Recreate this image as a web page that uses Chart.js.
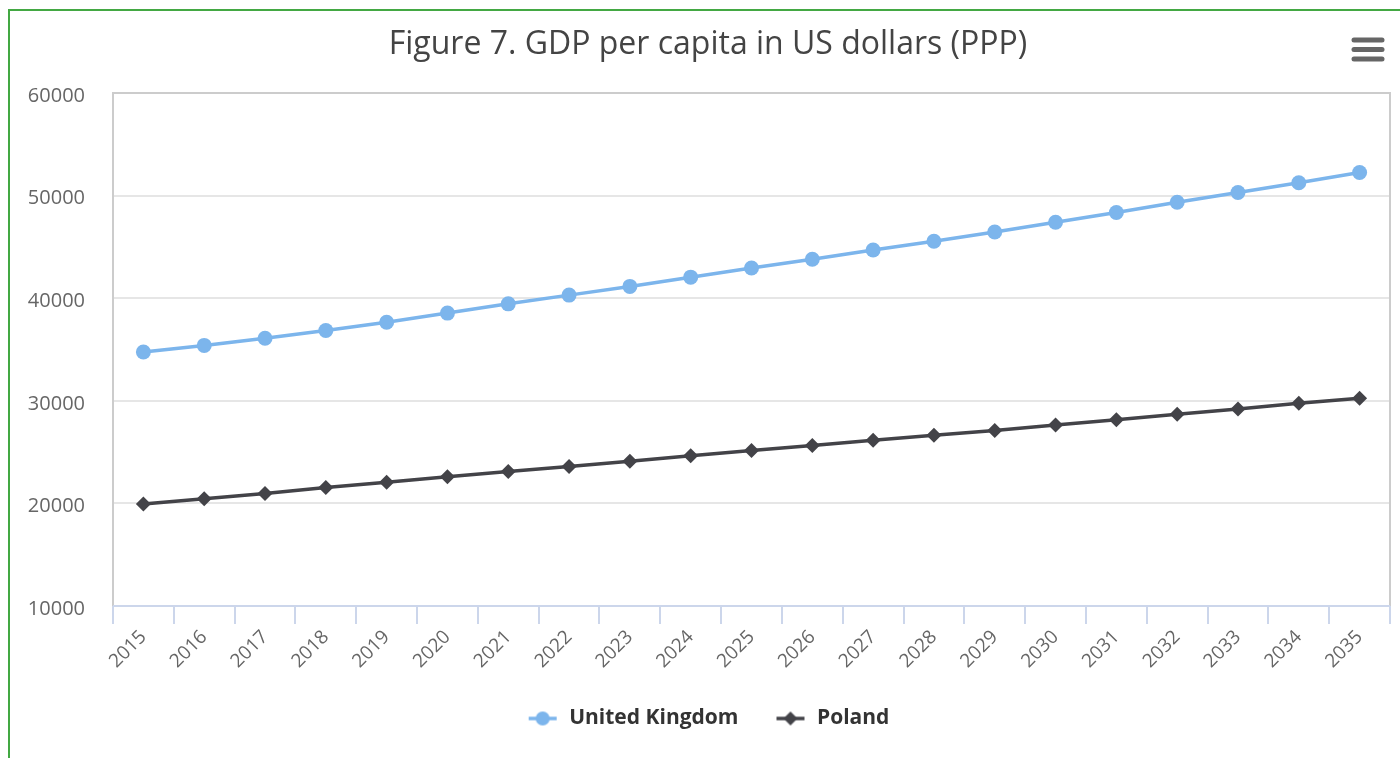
<!DOCTYPE html>
<html>
<head>
<meta charset="utf-8">
<title>GDP per capita</title>
<script src="https://cdn.jsdelivr.net/npm/chart.js@4.4.1/dist/chart.umd.min.js"></script>
<style>
    body { margin: 0; background: #fff; overflow: hidden; }
    #frame {
        position: absolute; left: 8px; top: 9px; width: 1500px; height: 900px;
        border-left: 2px solid #43a843; border-top: 2px solid #43a843;
    }
    #gdpChart { position: absolute; left: 0; top: 0; }
</style>
</head>
<body>
<div id="frame"></div>
<canvas id="gdpChart" width="1400" height="758"></canvas>
<script>
// dane
const years = ["2015", "2016", "2017", "2018", "2019", "2020", "2021", "2022", "2023", "2024", "2025",
    "2026", "2027", "2028", "2029", "2030", "2031", "2032", "2033", "2034", "2035"];
const ukValues = [34750, 35400, 36100, 36850, 37650, 38550, 39450, 40300, 41150, 42050, 42950,
    43800, 44700, 45550, 46450, 47400, 48350, 49350, 50300, 51250, 52250];
const plValues = [19950, 20450, 20970, 21550, 22050, 22600, 23100, 23600, 24100, 24650, 25150,
    25650, 26150, 26650, 27100, 27650, 28150, 28700, 29200, 29750, 30250];
const yTicks = [10000, 20000, 30000, 40000, 50000, 60000];

const UK_COLOR = "#7cb5ec";
const PL_COLOR = "#434348";

// ikonka legendy: linia + znacznik
function makeIcon(color, shape) {
    const c = document.createElement("canvas");
    c.width = 58;
    c.height = 18;
    const ctx = c.getContext("2d");
    ctx.strokeStyle = color;
    ctx.fillStyle = color;
    ctx.lineWidth = 3.5;
    ctx.beginPath();
    ctx.moveTo(28, 9);
    ctx.lineTo(56, 9);
    ctx.stroke();
    ctx.beginPath();
    if (shape === "circle") {
        ctx.arc(42, 9, 7, 0, Math.PI * 2);
    } else {
        ctx.moveTo(42, 2); ctx.lineTo(49, 9); ctx.lineTo(42, 16); ctx.lineTo(35, 9);
        ctx.closePath();
    }
    ctx.fill();
    return c;
}
const legendIcons = [makeIcon(UK_COLOR, "circle"), makeIcon(PL_COLOR, "diamond")];

// ramka obszaru wykresu + menu
const framePlugin = {
    id: "plotFrame",
    afterLayout(chart) {
        // tytul wysrodkowany wzgledem calego kontenera, nie tylko canvasa
        chart.titleBlock.left = 26;
    },
    beforeDatasetsDraw(chart) {
        const { ctx, chartArea: a } = chart;
        ctx.save();
        ctx.strokeStyle = "#cccccc";
        ctx.lineWidth = 2;
        ctx.beginPath();
        ctx.moveTo(a.left, a.bottom);
        ctx.lineTo(a.left, a.top);
        ctx.lineTo(a.right, a.top);
        ctx.lineTo(a.right, a.bottom);
        ctx.stroke();
        ctx.strokeStyle = "#ccd6eb";
        ctx.beginPath();
        ctx.moveTo(a.left, a.bottom);
        ctx.lineTo(a.right, a.bottom);
        ctx.stroke();
        ctx.restore();
    },
    afterDraw(chart) {
        const ctx = chart.ctx;
        ctx.save();
        ctx.strokeStyle = "#666666";
        ctx.lineWidth = 5;
        ctx.lineCap = "round";
        [40, 49.5, 59].forEach(y => {
            ctx.beginPath();
            ctx.moveTo(1354, y);
            ctx.lineTo(1382, y);
            ctx.stroke();
        });
        ctx.restore();
    }
};

new Chart(document.getElementById("gdpChart"), {
    type: "line",
    data: {
        labels: years,
        datasets: [
            {
                label: "United Kingdom",
                data: ukValues,
                borderColor: UK_COLOR,
                backgroundColor: UK_COLOR,
                borderWidth: 3.5,
                pointStyle: "circle",
                pointRadius: 7.5,
                pointBorderWidth: 0,
                tension: 0
            },
            {
                label: "Poland",
                data: plValues,
                borderColor: PL_COLOR,
                backgroundColor: PL_COLOR,
                borderWidth: 3.5,
                pointStyle: "rectRot",
                pointRadius: 7.5,
                pointBorderWidth: 0,
                tension: 0
            }
        ]
    },
    options: {
        responsive: false,
        animation: false,
        devicePixelRatio: 1,
        layout: { padding: { left: 0, right: 10, top: 26, bottom: 19 } },
        plugins: {
            title: {
                display: true,
                text: "Figure 7. GDP per capita in US dollars (PPP)",
                color: "#444444",
                font: { family: "'Open Sans'", size: 32, weight: "normal" },
                padding: { top: 0, bottom: 28.6 }
            },
            legend: {
                position: "bottom",
                labels: {
                    usePointStyle: true,
                    pointStyleWidth: 58,
                    color: "#333333",
                    padding: 10,
                    font: { family: "'Open Sans'", size: 21, weight: "bold" },
                    generateLabels(chart) {
                        const items = Chart.defaults.plugins.legend.labels.generateLabels(chart);
                        items.forEach((it, i) => { it.pointStyle = legendIcons[i]; });
                        return items;
                    }
                }
            },
            tooltip: { enabled: false }
        },
        scales: {
            x: {
                offset: true,
                grid: {
                    offset: true,
                    drawOnChartArea: false,
                    drawTicks: true,
                    tickLength: 18,
                    color: "#ccd6eb",
                    lineWidth: 2
                },
                border: { display: false },
                ticks: {
                    color: "#666666",
                    font: { family: "'Open Sans'", size: 19 },
                    minRotation: 45,
                    maxRotation: 45,
                    autoSkip: false,
                    padding: 2
                },
                afterFit(scale) { scale.height = 92; }
            },
            y: {
                min: 10000,
                max: 60000,
                afterBuildTicks(scale) { scale.ticks = yTicks.map(v => ({ value: v })); },
                grid: { color: "#e6e6e6", lineWidth: 2, drawTicks: false },
                border: { display: false },
                ticks: {
                    color: "#666666",
                    font: { family: "'Open Sans'", size: 20 },
                    padding: 28,
                    labelOffset: 3,
                    callback: value => String(value)
                },
                afterFit(scale) { scale.width = 113; }
            }
        }
    },
    plugins: [framePlugin]
});
</script>
</body>
</html>
